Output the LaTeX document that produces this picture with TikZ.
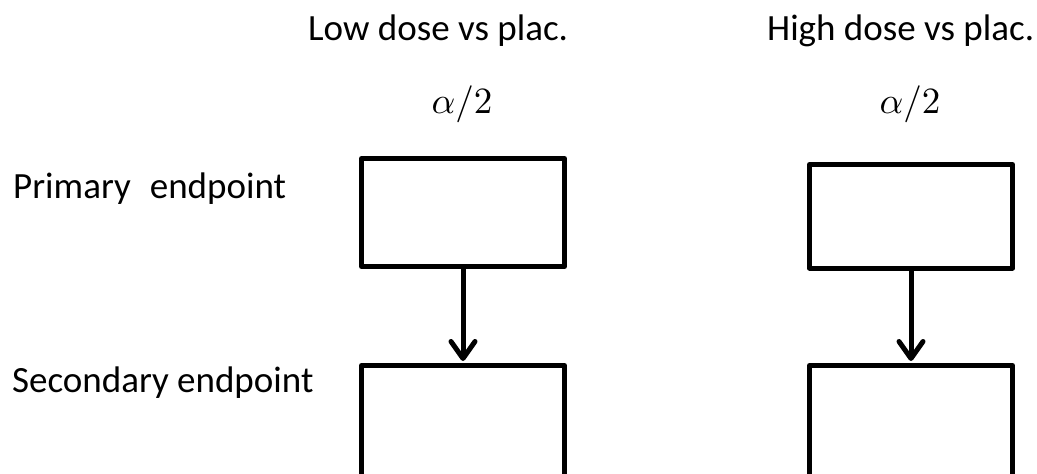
\documentclass[tikz,border=0pt]{standalone}
\usepackage{fontspec}
\usepackage{graphicx}
\setmainfont{Carlito}
\usetikzlibrary{arrows.meta}
\tikzset{
  lbl/.style={inner sep=0pt, anchor=base west, font=\fontsize{37}{42}\selectfont},
  alph/.style={inner sep=0pt, anchor=base},
  bx/.style={draw, line width=5pt, line join=round, minimum width=203pt, inner sep=0pt},
  arr/.style={line width=5pt, -{Straight Barb[length=17pt,width=24pt,line width=5pt,round]}, shorten >=2pt}
}
\begin{document}
\begin{tikzpicture}[x=1pt,y=-1pt]
\useasboundingbox (0,0) rectangle (1037,474);
\clip (0,0) rectangle (1037,474);
\fill[white] (0,0) rectangle (1037,474);
% headings
\node[lbl] (tl) at (308,40) {Low dose vs plac.};
\node[lbl] (tr) at (767,40) {High dose vs plac.};
\node[alph] (al) at (462,113) {\scalebox{3.7}{$\alpha/2$}};
\node[alph] (ar) at (910,113) {\scalebox{3.7}{$\alpha/2$}};
% row labels
\node[lbl] (p) at (13,198) {Primary\hspace{19pt}endpoint};
\node[lbl] (s) at (12,392) {Secondary endpoint};
% boxes
\node[bx, minimum height=108pt] (L1) at (463,212.5) {};
\node[bx, minimum height=103.5pt] (R1) at (911,216.25) {};
\node[bx, minimum height=114.5pt] (L2) at (463,422.75) {};
\node[bx, minimum height=114.5pt] (R2) at (911,422.75) {};
% arrows
\draw[arr] (L1.south) -- (L2.north);
\draw[arr] (R1.south) -- (R2.north);
\end{tikzpicture}
\end{document}
